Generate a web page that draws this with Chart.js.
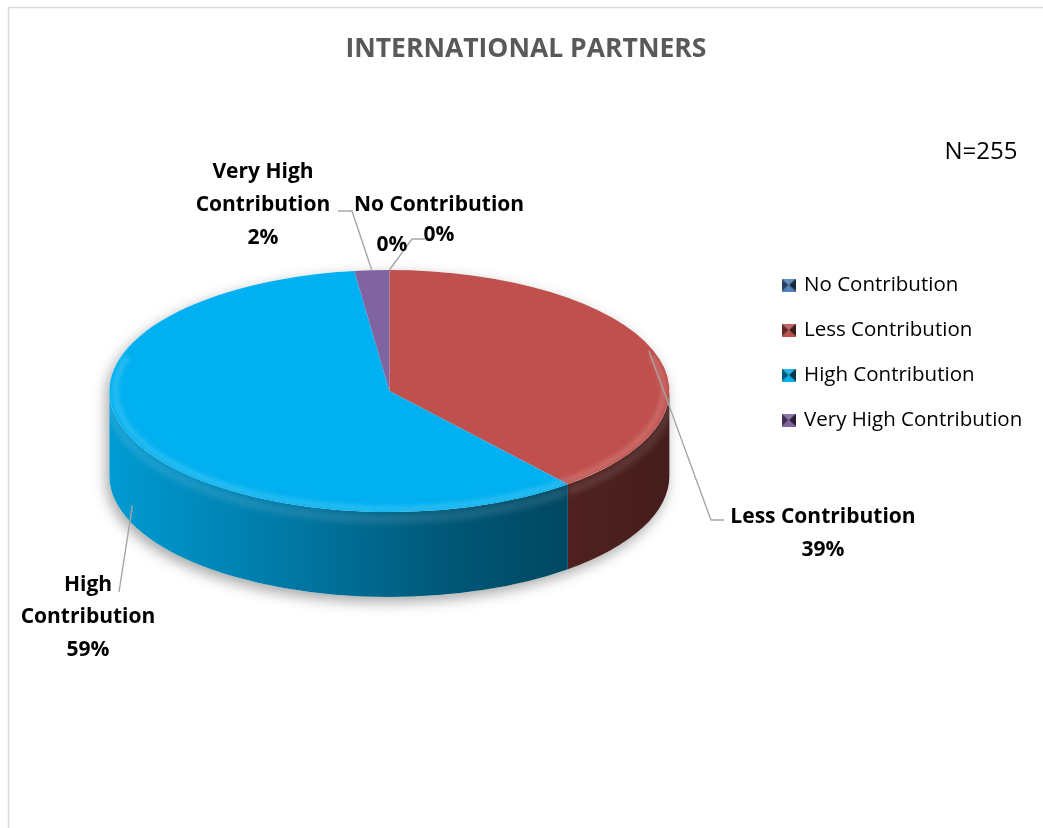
<!DOCTYPE html>
<html>
<head>
<meta charset="utf-8">
<title>International Partners</title>
<script src="https://cdn.jsdelivr.net/npm/chart.js@4.4.1/dist/chart.umd.min.js"></script>
<style>
  html, body { margin: 0; padding: 0; background: #ffffff; }
  #wrap { width: 1043px; height: 828px; position: relative; }
</style>
</head>
<body>
<div id="wrap"><canvas id="chart" width="1043" height="828"></canvas></div>
<script>
// ---- data ----
const categories = ['No Contribution', 'Less Contribution', 'High Contribution', 'Very High Contribution'];
const shares = [0, 39, 59, 2];
const sliceColors = ['#4f81bd', '#c0504d', '#00b0f0', '#8064a2'];
const titleText = 'INTERNATIONAL PARTNERS';
const sampleNote = 'N=255';

// ---- helpers ----
function shade(hex, f, a) {
  const n = parseInt(hex.slice(1), 16);
  const rgb = [(n >> 16) & 255, (n >> 8) & 255, n & 255].map(v => f <= 1 ? v * f : v + (255 - v) * (f - 1));
  return 'rgba(' + rgb.map(v => Math.round(v)).join(',') + ',' + (a === undefined ? 1 : a) + ')';
}

function pctText(i) {
  const total = shares.reduce((a, b) => a + b, 0);
  return Math.round(shares[i] / total * 100) + '%';
}

// bevelled legend swatch
function bevelSwatch(hex) {
  const w = 14, h = 13;
  const cv = document.createElement('canvas');
  cv.width = w; cv.height = h;
  const g = cv.getContext('2d');
  const m = [w / 2, h / 2];
  const tri = (pts, col) => {
    g.beginPath();
    g.moveTo(pts[0][0], pts[0][1]);
    for (let k = 1; k < pts.length; k++) g.lineTo(pts[k][0], pts[k][1]);
    g.closePath();
    g.fillStyle = col;
    g.fill();
  };
  tri([[0, 0], [w, 0], m], shade(hex, 1.12));
  tri([[0, h], [w, h], m], shade(hex, 1.0));
  tri([[0, 0], [0, h], m], shade(hex, 0.5));
  tri([[w, 0], [w, h], m], shade(hex, 0.32));
  return cv;
}
const swatches = sliceColors.map(bevelSwatch);

// callout text placement and leader elbows
const callouts = [
  { slice: 3, lines: ['Very High', 'Contribution'], x: 263, y: 172, gap: 33, leader: [[338, 211], [352, 211]], reach: 1, drop: 0 },
  { slice: 0, lines: ['No Contribution'], x: 439, y: 205, gap: 30, leader: [[425, 239], [412, 239]], reach: 1, drop: 0 },
  { slice: 0, lines: [], x: 392, y: 245, gap: 0, leader: null },
  { slice: 1, lines: ['Less Contribution'], x: 823, y: 517, gap: 33, leader: [[724, 520], [711, 520]], reach: 0.985, drop: 0 },
  { slice: 2, lines: ['High', 'Contribution'], x: 88, y: 585, gap: 32.5, leader: [[119, 592]], reach: 1, drop: 0.78 }
];

// ---- 3D pie projection ----
function pieGeometry(chart, o) {
  const arcs = chart.getDatasetMeta(0).data;
  if (!arcs.length) return null;
  const c = arcs[0].getProps(['x', 'y', 'outerRadius'], true);
  return { arcs, cx: c.x, cy: c.y, r: c.outerRadius, ry: c.outerRadius * o.tilt, d: o.depth };
}

// visible part of an arc inside [lo, hi], checking one turn either side
function frontSpans(p, lo, hi) {
  const spans = [];
  [-2 * Math.PI, 0, 2 * Math.PI].forEach(off => {
    const a0 = Math.max(p.startAngle + off, lo);
    const a1 = Math.min(p.endAngle + off, hi);
    if (a1 > a0) spans.push([a0, a1]);
  });
  return spans;
}

const pie3d = {
  id: 'pie3d',
  beforeDatasetsDraw(chart, args, o) {
    const g = pieGeometry(chart, o);
    if (!g) return;
    const ctx = chart.ctx;
    const { cx, cy, r, ry, d } = g;

    // soft shadow below the disc
    ctx.save();
    ctx.shadowColor = 'rgba(0,0,0,0.35)';
    ctx.shadowBlur = 14;
    ctx.shadowOffsetX = -3;
    ctx.shadowOffsetY = 5;
    ctx.fillStyle = '#ffffff';
    ctx.beginPath();
    ctx.ellipse(cx, cy, r, ry, 0, Math.PI, 2 * Math.PI);
    ctx.ellipse(cx, cy + d, r, ry, 0, 0, Math.PI);
    ctx.closePath();
    ctx.fill();
    ctx.restore();

    // front side walls
    g.arcs.forEach((arc, i) => {
      const p = arc.getProps(['startAngle', 'endAngle'], true);
      const base = sliceColors[i];
      frontSpans(p, 0, Math.PI).forEach(([a0, a1]) => {
        const grad = ctx.createLinearGradient(cx - r, 0, cx + r, 0);
        grad.addColorStop(0, shade(base, 0.88));
        grad.addColorStop(0.3, shade(base, 0.7));
        grad.addColorStop(0.6, shade(base, 0.5));
        grad.addColorStop(0.78, shade(base, 0.42));
        grad.addColorStop(1, shade(base, 0.36));
        ctx.save();
        ctx.beginPath();
        ctx.ellipse(cx, cy, r, ry, 0, a0, a1);
        ctx.ellipse(cx, cy + d, r, ry, 0, a1, a0, true);
        ctx.closePath();
        ctx.fillStyle = grad;
        ctx.fill();
        // soft light band just under the rim
        ctx.clip();
        ctx.filter = 'blur(3px)';
        ctx.beginPath();
        ctx.ellipse(cx, cy + 7, r, ry, 0, a0, a1);
        ctx.lineWidth = 8;
        ctx.strokeStyle = 'rgba(255,255,255,0.12)';
        ctx.stroke();
        ctx.restore();
      });
    });

    // flatten the top face; restored after the datasets are drawn
    ctx.save();
    ctx.translate(0, cy);
    ctx.scale(1, o.tilt);
    ctx.translate(0, -cy);
  },
  afterDatasetsDraw(chart, args, o) {
    const g = pieGeometry(chart, o);
    if (!g) return;
    const ctx = chart.ctx;
    ctx.restore();
    const { cx, cy, r, ry } = g;
    // soft bevel highlight inside the front rim of the top face
    ctx.save();
    ctx.beginPath();
    ctx.ellipse(cx, cy, r, ry, 0, 0, 2 * Math.PI);
    ctx.clip();
    g.arcs.forEach((arc, i) => {
      const p = arc.getProps(['startAngle', 'endAngle'], true);
      frontSpans(p, -0.3, Math.PI + 0.3).forEach(([a0, a1]) => {
        ctx.save();
        ctx.filter = 'blur(2.5px)';
        ctx.beginPath();
        ctx.ellipse(cx, cy, r - 6, ry - 3, 0, a0, a1);
        ctx.lineWidth = 5;
        ctx.strokeStyle = shade(sliceColors[i], 1.35, 0.55);
        ctx.stroke();
        ctx.restore();
      });
    });
    ctx.restore();
  }
};

// frame, note and callouts
const decorations = {
  id: 'decorations',
  beforeDraw(chart) {
    const ctx = chart.ctx;
    ctx.save();
    ctx.strokeStyle = '#d9d9d9';
    ctx.lineWidth = 1.5;
    ctx.strokeRect(8.5, 7.5, chart.width + 20, chart.height + 20);
    ctx.restore();
  },
  afterDraw(chart) {
    const o = chart.options.plugins.pie3d;
    const g = pieGeometry(chart, o);
    const ctx = chart.ctx;
    ctx.save();
    ctx.fillStyle = '#000000';
    ctx.font = "24px 'Open Sans', sans-serif";
    ctx.textAlign = 'center';
    ctx.textBaseline = 'middle';
    ctx.fillText(sampleNote, 981, 152);

    if (g) {
      callouts.forEach(c => {
        if (c.leader) {
          const p = g.arcs[c.slice].getProps(['startAngle', 'endAngle'], true);
          const mid = (p.startAngle + p.endAngle) / 2;
          const ex = g.cx + g.r * c.reach * Math.cos(mid);
          const ey = g.cy + g.ry * c.reach * Math.sin(mid) + c.drop * g.d;
          ctx.beginPath();
          ctx.moveTo(c.leader[0][0], c.leader[0][1]);
          for (let k = 1; k < c.leader.length; k++) ctx.lineTo(c.leader[k][0], c.leader[k][1]);
          ctx.lineTo(ex, ey);
          ctx.strokeStyle = '#a6a6a6';
          ctx.lineWidth = 1.4;
          ctx.stroke();
        }
        const lines = c.lines.concat([pctText(c.slice)]);
        ctx.font = "bold 21px 'Open Sans', sans-serif";
        ctx.fillStyle = '#000000';
        lines.forEach((t, k) => ctx.fillText(t, c.x, c.y + k * c.gap));
      });
    }
    ctx.restore();
  }
};

Chart.defaults.font.family = "'Open Sans', sans-serif";

const baseLabels = Chart.overrides.doughnut.plugins.legend.labels.generateLabels;

new Chart(document.getElementById('chart'), {
  type: 'doughnut',
  data: {
    labels: categories,
    datasets: [{
      data: shares,
      backgroundColor: sliceColors,
      borderWidth: 0
    }]
  },
  options: {
    responsive: false,
    animation: false,
    events: [],
    cutout: 0,
    radius: 280,
    layout: { padding: { left: 19.5, right: 10.75, top: 0, bottom: 123 } },
    plugins: {
      pie3d: { tilt: 121 / 280, depth: 85 },
      title: {
        display: true,
        text: titleText,
        color: '#595959',
        font: { size: 26.5, weight: 'bold' },
        padding: { top: 34, bottom: 11.2 }
      },
      legend: {
        position: 'right',
        align: 'center',
        labels: {
          color: '#000000',
          font: { size: 20.5 },
          padding: 24.5,
          boxWidth: 10,
          boxHeight: 13,
          usePointStyle: true,
          generateLabels(chart) {
            return baseLabels(chart).map((item, i) => Object.assign(item, { pointStyle: swatches[i] }));
          }
        }
      },
      tooltip: { enabled: false }
    }
  },
  plugins: [pie3d, decorations]
});
</script>
</body>
</html>
